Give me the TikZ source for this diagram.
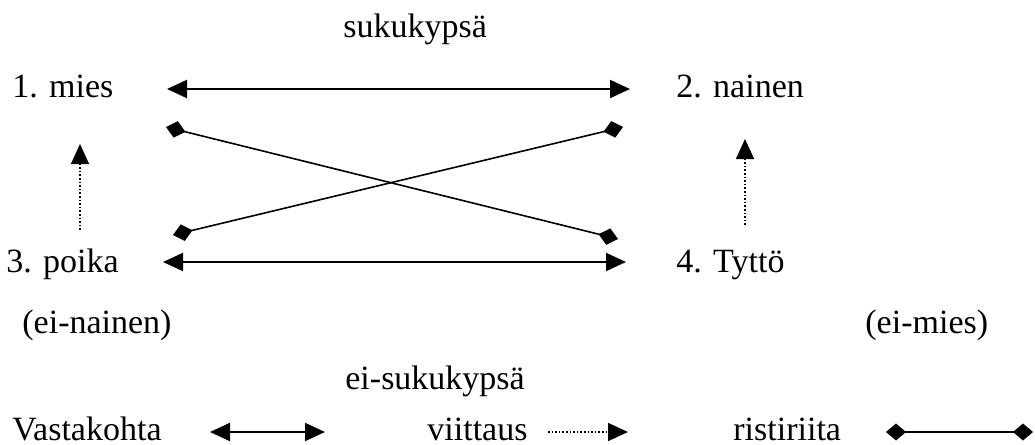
\documentclass[tikz,border=0pt]{standalone}
\usepackage{fontspec}
\setmainfont{Liberation Serif}
\usetikzlibrary{arrows.meta}
\begin{document}
\begin{tikzpicture}[x=0.5pt,y=-0.5pt,
  lbl/.style={anchor=base west,inner sep=0pt,font=\fontsize{17}{20}\selectfont},
  opp/.style={line width=1pt,{Triangle[length=10pt,width=9pt]}-{Triangle[length=10pt,width=9pt]}},
  refer/.style={line width=0.8pt,densely dotted,-{Triangle[length=10pt,width=9pt]}},
  contra/.style={line width=0.8pt,{Diamond[length=10pt,width=8.5pt]}-{Diamond[length=10pt,width=8.5pt]}}]
\useasboundingbox (0,0) rectangle (1035,445);
\node[lbl] (suk) at (343,37) {sukukypsä};
\node[lbl] (mies) at (12,97) {1. mies};
\node[lbl] (nainen) at (676,97) {2. nainen};
\node[lbl] (poika) at (6,272) {3. poika};
\node[lbl] (tytto) at (676,272) {4. Tyttö};
\node[lbl] (einainen) at (22,333) {(ei-nainen)};
\node[lbl] (eimies) at (865,333) {(ei-mies)};
\node[lbl] (eisuk) at (345,389) {ei-sukukypsä};
\node[lbl] (vasta) at (12,440) {Vastakohta};
\node[lbl] (viitt) at (427,440) {viittaus};
\node[lbl] (risti) at (733,440) {ristiriita};
% endpoints
\coordinate (a1) at (167,89);
\coordinate (a2) at (630,89);
\coordinate (b1) at (163,262);
\coordinate (b2) at (626,262);
\coordinate (c1) at (166,127);
\coordinate (c2) at (618,239);
\coordinate (d1) at (173,235);
\coordinate (d2) at (623,127);
\coordinate (e1) at (80,230);
\coordinate (e2) at (80,144);
\coordinate (f1) at (745,225);
\coordinate (f2) at (745,139);
\coordinate (g1) at (210,432);
\coordinate (g2) at (325,432);
\coordinate (h1) at (548,432);
\coordinate (h2) at (628,432);
\coordinate (k1) at (886,432);
\coordinate (k2) at (1033,432);
\draw[opp] (a1) -- (a2);
\draw[opp] (b1) -- (b2);
\draw[contra] (c1) -- (c2);
\draw[contra] (d1) -- (d2);
\draw[refer] (e1) -- (e2);
\draw[refer] (f1) -- (f2);
\draw[opp] (g1) -- (g2);
\draw[refer] (h1) -- (h2);
\draw[contra] (k1) -- (k2);
\end{tikzpicture}
\end{document}
